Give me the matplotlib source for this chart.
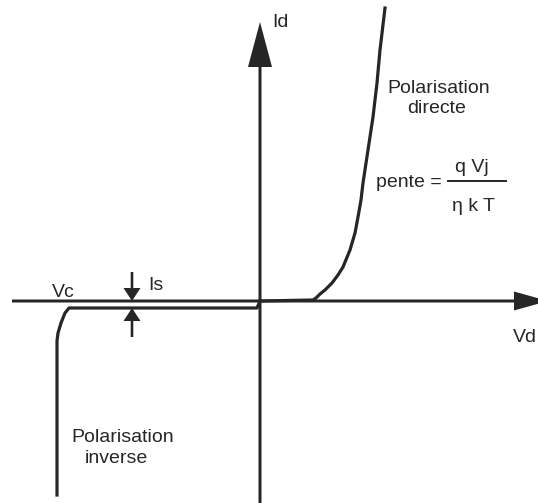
"""
Caractéristique courant-tension d'une diode (schéma de principe).
"""

import matplotlib
matplotlib.use("Agg")
import matplotlib.pyplot as plt

plt.rcParams["font.family"] = ["Liberation Sans", "DejaVu Sans"]

INK = "#262626"
LW = 2.3

# polarisation directe : Vd, Id (unités du schéma, origine au croisement des axes)
fwd_v = [0, 53, 56, 60, 65, 72, 78, 83, 90, 95, 98, 101, 103, 108, 113, 117, 120, 125]
fwd_i = [0, 1, 3, 7, 11, 18, 26, 34, 51, 68, 84, 101, 118, 151, 184, 218, 251, 293]

# polarisation inverse : courant de saturation Is puis claquage à Vc
rev_v = [0, -3, -191, -195, -199, -202, -203, -203]
rev_i = [0, -7, -7, -12, -22, -32, -40, -194]

# repère Is
is_x = -128
is_level = -7

fig = plt.figure(figsize=(5.38, 5.03), dpi=100)
ax = fig.add_axes([0, 0, 1, 1])
ax.set_xlim(-260, 278)
ax.set_ylim(-202, 301)
ax.axis("off")

# axes Vd / Id
ax.arrow(0, -205, 0, 484, width=3, head_width=24, head_length=45,
         length_includes_head=True, color=INK, lw=0)
ax.arrow(-248, 0, 536, 0, width=3, head_width=19, head_length=34,
         length_includes_head=True, color=INK, lw=0)

# courbes
ax.plot(fwd_v, fwd_i, color=INK, lw=LW, solid_joinstyle="round")
ax.plot(rev_v, rev_i, color=INK, lw=LW, solid_joinstyle="round")

# flèches Is
ax.arrow(is_x, 29, 0, -29, width=2.6, head_width=17, head_length=13,
         length_includes_head=True, color=INK, lw=0)
ax.arrow(is_x, -36, 0, 36 + is_level, width=2.6, head_width=17, head_length=13,
         length_includes_head=True, color=INK, lw=0)

fs = 14
txt = dict(color=INK, fontsize=fs, va="baseline")
ax.text(12, 274, "Id", ha="left", **txt)
ax.text(265, -41, "Vd", ha="center", **txt)
ax.text(-197, 4, "Vc", ha="center", **txt)
ax.text(-112, 11, "Is", ha="left", **txt)
ax.text(179, 208, "Polarisation", ha="center", **txt)
ax.text(177, 188, "directe", ha="center", **txt)
ax.text(-137, -141, "Polarisation", ha="center", **txt)
ax.text(-144, -162, "inverse", ha="center", **txt)

ax.text(116, 114, "pente =", ha="left", **txt)
ax.plot([188, 246], [120, 120], color=INK, lw=1.4)
ax.text(212, 129, "q Vj", ha="center", **txt)
ax.text(214, 90, "η k T", ha="center", **txt)

fig.savefig("out.png", dpi=100, facecolor="white")
plt.close(fig)
